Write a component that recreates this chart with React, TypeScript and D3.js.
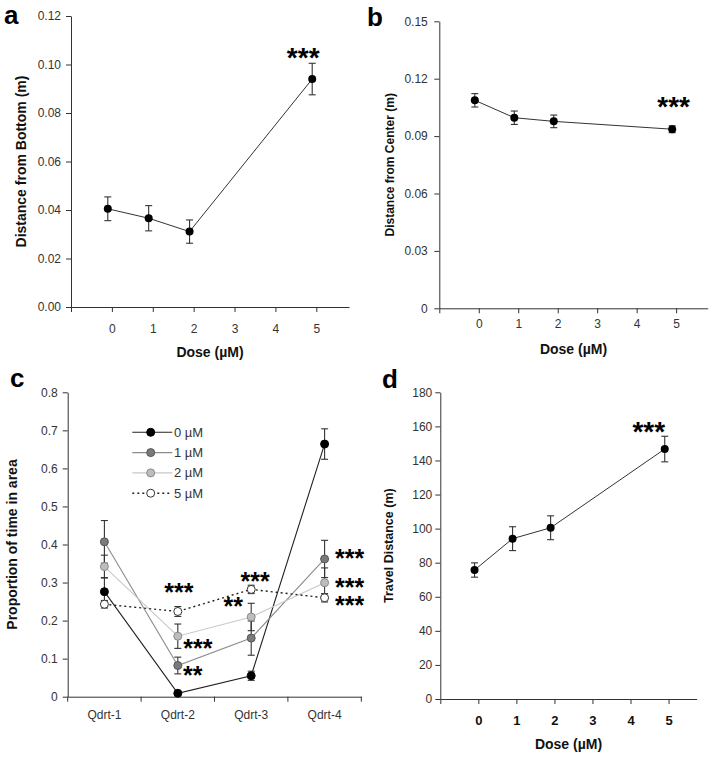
import { useEffect, useRef } from "react";
import * as d3 from "d3";

const W = 714;
const H = 757;
const FONT = "Arial, 'Liberation Sans', sans-serif";

// doses (µM) for panels a, b, d
const doses = [0, 1, 2, 5];
const bottomMean = [0.0405, 0.0366, 0.0311, 0.094];
const bottomSem = [0.0049, 0.0052, 0.0048, 0.0065];
const centerMean = [0.1087, 0.0996, 0.0977, 0.0936];
const centerSem = [0.0035, 0.0035, 0.0033, 0.0018];
const travelMean = [75.7, 94.1, 100.5, 146.7];
const travelSem = [4.2, 7.0, 7.0, 7.5];

// panel c
const quadrants = ["Qdrt-1", "Qdrt-2", "Qdrt-3", "Qdrt-4"];
const seriesNames = ["0 µM", "1 µM", "2 µM", "5 µM"];
const prop0 = [0.276, 0.009, 0.055, 0.664];
const sem0 = [0.037, 0.004, 0.012, 0.04];
const prop1 = [0.407, 0.082, 0.154, 0.362];
const sem1 = [0.056, 0.022, 0.045, 0.049];
const prop2 = [0.342, 0.159, 0.2095, 0.2995];
const sem2 = [0.03, 0.032, 0.036, 0.039];
const prop5 = [0.243, 0.224, 0.282, 0.26];
const sem5 = [0.01, 0.013, 0.011, 0.011];
// significance marks: [series index, quadrant index, label]
const quadStars: [number, number, string][] = [
  [3, 1, "***"],
  [2, 1, "***"],
  [1, 1, "**"],
  [3, 2, "***"],
  [2, 2, "**"],
  [1, 3, "***"],
  [2, 3, "***"],
  [3, 3, "***"],
];
// pixel offsets of those marks from their point
const quadStarOffsets = [
  [1, -25], [20, 6], [15, 4], [4, -14], [-18, -16], [25, -6], [25, -1], [25, 2],
];

const seriesStyle = [
  { line: "#222", fill: "#000", stroke: "#000", dash: null },
  { line: "#8c8c8c", fill: "#7a7a7a", stroke: "#555", dash: null },
  { line: "#c8c8c8", fill: "#bdbdbd", stroke: "#8a8a8a", dash: null },
  { line: "#222", fill: "#fff", stroke: "#333", dash: "2,3" },
];

const DOSE_SHIFT = -0.1; // points sit just left of their tick

type Sel = d3.Selection<any, unknown, null, undefined>;

function styleAxis(g: Sel, bold = false, size = 12) {
  g.attr("font-family", FONT);
  g.select("path.domain").attr("stroke", "#333");
  g.selectAll(".tick line").attr("stroke", "#333");
  g.selectAll("text")
    .attr("font-size", size)
    .attr("font-weight", bold ? "bold" : "normal")
    .attr("fill", bold ? "#111" : "#333");
}

function stars(g: Sel, cx: number, cy: number, txt: string, size: number) {
  g.append("text")
    .attr("x", cx)
    .attr("y", cy + size * 0.58)
    .attr("text-anchor", "middle")
    .attr("font-family", FONT)
    .attr("font-weight", "bold")
    .attr("font-size", size)
    .text(txt);
}

function errBar(g: Sel, x: number, y0: number, y1: number) {
  g.append("line").attr("x1", x).attr("x2", x).attr("y1", y0).attr("y2", y1)
    .attr("stroke", "#333").attr("stroke-width", 1.1);
  [y0, y1].forEach((yy) =>
    g.append("line").attr("x1", x - 3.5).attr("x2", x + 3.5).attr("y1", yy).attr("y2", yy)
      .attr("stroke", "#333").attr("stroke-width", 1.1)
  );
}

function letter(g: Sel, txt: string, x: number, y: number) {
  g.append("text").attr("x", x).attr("y", y)
    .attr("font-family", FONT).attr("font-weight", "bold").attr("font-size", 26)
    .text(txt);
}

type DoseOpts = {
  box: [number, number, number, number];
  xMax: number;
  yMax: number;
  yStep: number;
  yFmt: (d: number) => string;
  mean: number[];
  sem: number[];
  yLabel: string;
  yLabelSize: number;
  yLabelX: number;
  yPad: number;
  xPad: number;
  boldTicks: boolean;
  letter: string;
  letterPos: [number, number];
  starOff: [number, number];
  xLabelY: number;
};

function dosePanel(svg: Sel, p: DoseOpts) {
  const [l, t, r, b] = p.box;
  const x = d3.scaleLinear().domain([-1, p.xMax]).range([l, r]);
  const y = d3.scaleLinear().domain([0, p.yMax]).range([b, t]);
  const g = svg.append("g");
  const yTicks = d3.range(0, p.yMax + p.yStep / 2, p.yStep);

  const ya = g.append("g").attr("transform", `translate(${l},0)`)
    .call(d3.axisLeft(y).tickValues(yTicks).tickFormat((d: any) => p.yFmt(+d))
      .tickSize(5).tickSizeOuter(0).tickPadding(p.yPad));
  styleAxis(ya);
  const xa = g.append("g").attr("transform", `translate(0,${b})`)
    .call(d3.axisBottom(x).tickValues([-1, 0, 1, 2, 3, 4, 5])
      .tickFormat((d: any) => (+d < 0 ? "" : String(d)))
      .tickSize(5).tickSizeOuter(0).tickPadding(p.xPad));
  styleAxis(xa, p.boldTicks, p.boldTicks ? 13 : 12);

  const pts = doses.map((d, i) => ({ x: x(d + DOSE_SHIFT), m: p.mean[i], s: p.sem[i] }));
  g.append("path")
    .attr("d", d3.line<any>().x((d) => d.x).y((d) => y(d.m))(pts))
    .attr("fill", "none").attr("stroke", "#333").attr("stroke-width", 1);
  pts.forEach((d) => errBar(g, d.x, y(d.m - d.s), y(d.m + d.s)));
  pts.forEach((d) => g.append("circle").attr("cx", d.x).attr("cy", y(d.m)).attr("r", 4).attr("fill", "#000"));

  const last = pts[pts.length - 1];
  stars(g, last.x + p.starOff[0], y(last.m + last.s) + p.starOff[1], "***", 28);

  g.append("text")
    .attr("transform", `translate(${p.yLabelX},${(t + b) / 2}) rotate(-90)`)
    .attr("text-anchor", "middle").attr("dy", "0.35em")
    .attr("font-family", FONT).attr("font-weight", "bold").attr("font-size", p.yLabelSize)
    .attr("fill", "#111")
    .text(p.yLabel);
  g.append("text")
    .attr("x", (l + r) / 2).attr("y", p.xLabelY)
    .attr("text-anchor", "middle").attr("dy", "0.35em")
    .attr("font-family", FONT).attr("font-weight", "bold").attr("font-size", 14)
    .attr("fill", "#111")
    .text("Dose (µM)");
  letter(g, p.letter, p.letterPos[0], p.letterPos[1]);
}

function quadPanel(svg: Sel) {
  const l = 67.7, t = 392.3, r = 361.3, b = 696.7;
  const x = d3.scaleBand<string>().domain(quadrants).range([l, r]).padding(0);
  const y = d3.scaleLinear().domain([0, 0.8]).range([b, t]);
  const cx = (q: string) => (x(q) as number) + x.bandwidth() / 2;
  const g = svg.append("g");

  const ya = g.append("g").attr("transform", `translate(${l},0)`)
    .call(d3.axisLeft(y).tickValues(d3.range(0, 0.85, 0.1))
      .tickFormat((d: any) => (+d === 0 ? "0" : d3.format(".1f")(+d)))
      .tickSize(5).tickSizeOuter(0).tickPadding(5));
  styleAxis(ya);
  const xa = g.append("g").attr("transform", `translate(0,${b})`)
    .call(d3.axisBottom(x).tickSize(0).tickPadding(14));
  styleAxis(xa);
  const edges = [...quadrants.map((q) => x(q) as number), r];
  edges.forEach((e) =>
    xa.append("line").attr("x1", e).attr("x2", e).attr("y1", 0).attr("y2", 5).attr("stroke", "#333")
  );

  const all = [
    { m: prop0, s: sem0 },
    { m: prop1, s: sem1 },
    { m: prop2, s: sem2 },
    { m: prop5, s: sem5 },
  ];
  const line = d3.line<number>().x((_, i) => cx(quadrants[i])).y((d) => y(d));
  all.forEach((sr, k) => {
    const st = seriesStyle[k];
    g.append("path").attr("d", line(sr.m))
      .attr("fill", "none").attr("stroke", st.line)
      .attr("stroke-width", k === 3 ? 1.4 : 1.1)
      .attr("stroke-dasharray", st.dash);
  });
  all.forEach((sr) =>
    sr.m.forEach((m, i) => errBar(g, cx(quadrants[i]), y(m - sr.s[i]), y(m + sr.s[i])))
  );
  all.forEach((sr, k) => {
    const st = seriesStyle[k];
    sr.m.forEach((m, i) =>
      g.append("circle").attr("cx", cx(quadrants[i])).attr("cy", y(m)).attr("r", 4)
        .attr("fill", st.fill).attr("stroke", st.stroke).attr("stroke-width", 1)
    );
  });

  quadStars.forEach(([k, i, txt], n) => {
    const [dx, dy] = quadStarOffsets[n];
    stars(g, cx(quadrants[i]) + dx, y(all[k].m[i]) + dy, txt, 25);
  });

  // legend
  seriesNames.forEach((name, k) => {
    const st = seriesStyle[k];
    const ly = 432.3 + k * 20.3;
    g.append("line").attr("x1", 132.3).attr("x2", 172.3).attr("y1", ly).attr("y2", ly)
      .attr("stroke", st.line).attr("stroke-width", k === 3 ? 1.4 : 1.1)
      .attr("stroke-dasharray", st.dash);
    g.append("circle").attr("cx", 150.7).attr("cy", ly).attr("r", 4)
      .attr("fill", st.fill).attr("stroke", st.stroke);
    g.append("text").attr("x", 174).attr("y", ly).attr("dy", "0.35em")
      .attr("font-family", FONT).attr("font-size", 13).attr("fill", "#333")
      .text(name);
  });

  g.append("text")
    .attr("transform", `translate(12.5,${(t + b) / 2}) rotate(-90)`)
    .attr("text-anchor", "middle").attr("dy", "0.35em")
    .attr("font-family", FONT).attr("font-weight", "bold").attr("font-size", 14)
    .attr("fill", "#111")
    .text("Proportion of time in area");
  letter(g, "c", 10, 387);
}

export default function App() {
  const ref = useRef<SVGSVGElement>(null);

  useEffect(() => {
    const svg = d3.select(ref.current) as Sel;
    svg.selectAll("*").remove();

    dosePanel(svg, {
      box: [71, 16, 349, 307], xMax: 5.8, yMax: 0.12, yStep: 0.02,
      yFmt: (d) => d3.format(".2f")(d),
      mean: bottomMean, sem: bottomSem,
      yLabel: "Distance from Bottom (m)", yLabelSize: 14, yLabelX: 21,
      yPad: 5, xPad: 12, boldTicks: false,
      letter: "a", letterPos: [4, 24], starOff: [-9, -13], xLabelY: 352,
    });
    dosePanel(svg, {
      box: [439.3, 21.3, 707.7, 308.3], xMax: 5.8, yMax: 0.15, yStep: 0.03,
      yFmt: (d) => (d === 0 ? "0" : d3.format(".2f")(d)),
      mean: centerMean, sem: centerSem,
      yLabel: "Distance from Center (m)", yLabelSize: 12, yLabelX: 390,
      yPad: 6.5, xPad: 6, boldTicks: false,
      letter: "b", letterPos: [367, 26], starOff: [1.5, -26], xLabelY: 349,
    });
    dosePanel(svg, {
      box: [440.3, 392.3, 696.7, 699], xMax: 5.74, yMax: 180, yStep: 20,
      yFmt: (d) => String(Math.round(d)),
      mean: travelMean, sem: travelSem,
      yLabel: "Travel Distance (m)", yLabelSize: 12.5, yLabelX: 388.5,
      yPad: 3, xPad: 12, boldTicks: true,
      letter: "d", letterPos: [382, 388], starOff: [-16, -12], xLabelY: 744.3,
    });
    quadPanel(svg);
  }, []);

  return (
    <svg
      ref={ref}
      width={W}
      height={H}
      style={{ position: "absolute", left: 0, top: 0, background: "#fff" }}
    />
  );
}
